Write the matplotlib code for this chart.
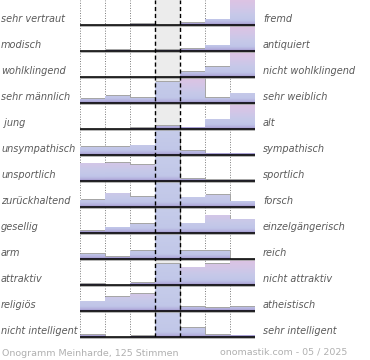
import numpy as np
import matplotlib
matplotlib.use('Agg')
import matplotlib.pyplot as plt
from matplotlib.patches import Rectangle
from matplotlib.colors import LinearSegmentedColormap
import matplotlib.transforms as mtransforms

left_labels = ["sehr vertraut", "modisch", "wohlklingend", "sehr männlich", " jung",
               "unsympathisch", "unsportlich", "zurückhaltend", "gesellig", "arm",
               "attraktiv", "religiös", "nicht intelligent"]
right_labels = ["fremd", "antiquiert", "nicht wohlklingend", "sehr weiblich", "alt",
                "sympathisch", "sportlich", "forsch", "einzelgängerisch", "reich",
                "nicht attraktiv", "atheistisch", "sehr intelligent"]
# percentage of votes per scale step (7 steps), one list per adjective pair
values = [
    [0.0, 0.0, 0.8, 0.0, 2.4, 5.6, 91.2],
    [0.0, 0.8, 0.0, 0.8, 2.4, 5.6, 90.4],
    [0.0, 0.0, 0.0, 0.0, 4.8, 10.4, 84.8],
    [4.0, 7.2, 4.8, 20.8, 48.8, 4.8, 9.6],
    [0.0, 0.0, 0.8, 3.2, 1.6, 9.6, 84.8],
    [8.0, 8.0, 9.6, 67.2, 4.0, 1.6, 1.6],
    [17.6, 18.4, 16.0, 44.0, 2.4, 0.8, 0.8],
    [7.2, 13.6, 10.4, 41.6, 9.6, 12.0, 5.6],
    [2.4, 5.6, 8.8, 42.4, 9.6, 17.6, 13.6],
    [4.8, 2.4, 8.0, 68.8, 8.0, 8.0, 0.0],
    [0.8, 0.0, 2.4, 20.8, 17.6, 20.8, 37.6],
    [9.6, 14.4, 16.8, 48.0, 4.0, 3.2, 4.0],
    [2.4, 0.0, 0.8, 84.0, 8.8, 2.4, 1.6],
]
footer_left = "Onogramm Meinharde, 125 Stimmen"
footer_right = "onomastik.com - 05 / 2025"

W, H = 370, 360
fig = plt.figure(figsize=(W / 100, H / 100), dpi=100)
fig.patch.set_facecolor('white')
ax = fig.add_axes([80 / W, (H - 337) / H, 175 / W, 337 / H])
ax.axis('off')

n_rows = len(values)
n_cols = 7
row_gap = 26
cap = 25
top = 337
baselines = [top - cap - row_gap * i for i in range(n_rows)]

# centre column background
ax.add_patch(Rectangle((3, 0), 1, top, color='#ececec', zorder=0, lw=0))
# dotted grid
for x in [0, 1, 2, 5, 6, 7]:
    ax.plot([x, x], [0, top], color='#7a7a7a', lw=0.7, ls=(0, (1, 1.6)), zorder=1)

cmap_side = LinearSegmentedColormap.from_list('side', [
    (0.0, '#9a8dc6'), (0.07, '#b3afdd'), (0.18, '#c0c5e8'),
    (0.4, '#c6c9e9'), (0.7, '#d3c6e7'), (1.0, '#ddc3e3')])
cmap_mid = LinearSegmentedColormap.from_list('mid', [
    (0.0, '#9a8dc6'), (0.07, '#b3afdd'), (0.2, '#c1c7e8'), (1.0, '#c6ccea')])
grad = np.linspace(0, 1, 80).reshape(-1, 1)

for i, row in enumerate(values):
    b = baselines[i]
    for j, v in enumerate(row):
        if v <= 0:
            continue
        h = min(v, cap)
        ax.add_patch(Rectangle((j + 0.045, b), 1, h + 0.9, color='#a6a6a6', lw=0, zorder=2))
        rect = Rectangle((j, b), 1, h, transform=ax.transData)
        cm = cmap_mid if j == 3 else cmap_side
        im = ax.imshow(grad, extent=[j, j + 1, b, b + cap], origin='lower', cmap=cm,
                       aspect='auto', interpolation='bilinear', zorder=3)
        im.set_clip_path(rect)
    ax.plot([0, 7], [b - 1.3, b - 1.3], color='#a0a0a0', lw=1.1, zorder=5,
            clip_on=False, solid_capstyle='butt')
    ax.plot([0, 7], [b, b], color='black', lw=1.15, zorder=6, clip_on=False,
            solid_capstyle='butt')

for x in [3, 4]:
    ax.plot([x, x], [0, top], color='black', lw=1.0, ls=(0, (3, 2)), zorder=7)

ax.set_xlim(0, n_cols)
ax.set_ylim(0, top)

trans = mtransforms.blended_transform_factory(fig.transFigure, ax.transData)
for i in range(n_rows):
    y = baselines[i] + 5.5
    ax.text(1 / W, y, left_labels[i], transform=trans, ha='left', va='center',
            fontsize=7, style='italic', color='#5a5a5a')
    ax.text(263 / W, y, right_labels[i], transform=trans, ha='left', va='center',
            fontsize=7, style='italic', color='#5a5a5a')

fig.text(2 / W, 1 - 353 / H, footer_left, ha='left', va='center', fontsize=6.8,
         color='#b0b0b0')
fig.text(347 / W, 1 - 352 / H, footer_right, ha='right', va='center', fontsize=6.8,
         color='#b0b0b0')

fig.savefig('out.png', dpi=100, facecolor='white')
